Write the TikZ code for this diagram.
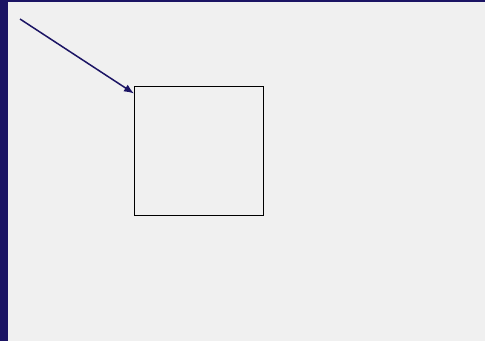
\documentclass[tikz,border=0pt]{standalone}
\usetikzlibrary{arrows.meta}
\definecolor{navy}{HTML}{1B1464}
\definecolor{bg}{HTML}{F0F0F0}
\begin{document}
\begin{tikzpicture}[x=1pt,y=-1pt,
  boxstyle/.style={draw=black,line width=1pt,minimum width=129pt,minimum height=129pt,inner sep=0pt,anchor=north west},
  arrowline/.style={draw=navy,line width=1.5pt,-{Latex[length=10pt,width=8pt]}}]
\useasboundingbox (0,0) rectangle (485,341);
\fill[bg] (0,0) rectangle (485,341);
\fill[navy] (0,0) rectangle (8,341);
\fill[navy] (0,0) rectangle (485,1.5);
\node[boxstyle] (box) at (134,86) {};
\coordinate (start) at (20,19);
\coordinate (tip) at (134,93.5);
\draw[arrowline] (start) -- (tip);
\end{tikzpicture}
\end{document}
